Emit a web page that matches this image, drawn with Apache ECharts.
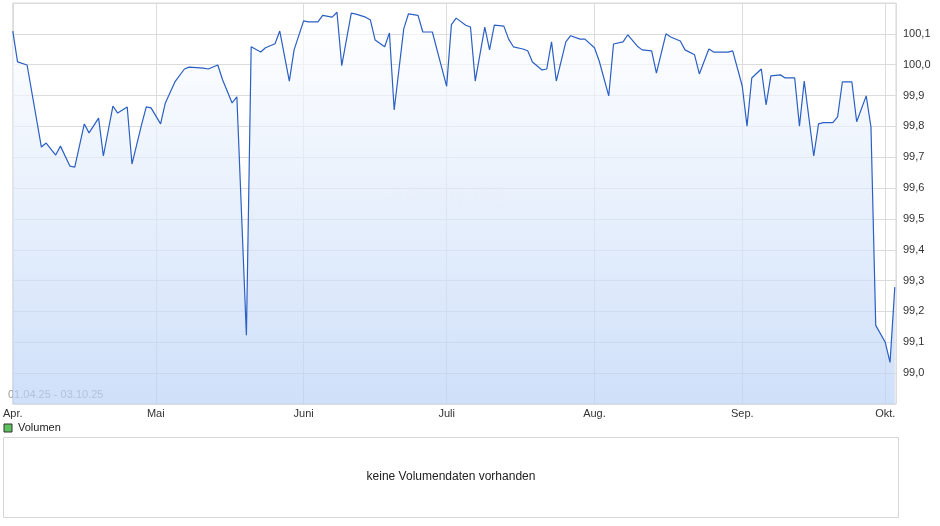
<!DOCTYPE html>
<html><head><meta charset="utf-8">
<script src="https://cdn.jsdelivr.net/npm/echarts@6/dist/echarts.min.js"></script>
<style>html,body{margin:0;padding:0;background:#fff}#c{width:940px;height:526px}</style>
</head><body><div id="c"></div>
<script>
const dates = ["2025-04-01","2025-04-02","2025-04-04","2025-04-07","2025-04-08","2025-04-10","2025-04-11","2025-04-13","2025-04-14","2025-04-16","2025-04-17","2025-04-19","2025-04-20","2025-04-22","2025-04-23","2025-04-25","2025-04-26","2025-04-28","2025-04-29","2025-04-30",
"2025-05-02","2025-05-03","2025-05-05","2025-05-07","2025-05-08","2025-05-11","2025-05-12","2025-05-14","2025-05-15","2025-05-17","2025-05-18","2025-05-20","2025-05-21","2025-05-23","2025-05-24","2025-05-26","2025-05-27","2025-05-29","2025-05-30",
"2025-06-01","2025-06-02","2025-06-04","2025-06-05","2025-06-07","2025-06-08","2025-06-09","2025-06-11","2025-06-12","2025-06-14","2025-06-15","2025-06-16","2025-06-18","2025-06-19","2025-06-20","2025-06-22","2025-06-23","2025-06-25","2025-06-26","2025-06-28",
"2025-07-01","2025-07-02","2025-07-03","2025-07-05","2025-07-06","2025-07-07","2025-07-09","2025-07-10","2025-07-11","2025-07-13","2025-07-14","2025-07-15","2025-07-17","2025-07-18","2025-07-19","2025-07-21","2025-07-22","2025-07-23","2025-07-24","2025-07-26","2025-07-27","2025-07-29","2025-07-30",
"2025-08-01","2025-08-02","2025-08-04","2025-08-05","2025-08-07","2025-08-08","2025-08-10","2025-08-11","2025-08-13","2025-08-14","2025-08-16","2025-08-17","2025-08-19","2025-08-20","2025-08-22","2025-08-23","2025-08-25","2025-08-26","2025-08-27","2025-08-29","2025-08-30",
"2025-09-01","2025-09-02","2025-09-03","2025-09-05","2025-09-06","2025-09-07","2025-09-09","2025-09-10","2025-09-12","2025-09-13","2025-09-14","2025-09-16","2025-09-17","2025-09-18","2025-09-20","2025-09-21","2025-09-22","2025-09-24","2025-09-25","2025-09-27","2025-09-28","2025-09-29",
"2025-10-01","2025-10-02","2025-10-03"];
const prices = [100.109,100.009,99.999,99.733,99.746,99.707,99.736,99.671,99.668,99.808,99.779,99.827,99.704,99.866,99.843,99.863,99.678,99.805,99.863,99.860,
99.808,99.876,99.944,99.986,99.992,99.989,99.986,99.999,99.951,99.876,99.896,99.123,100.058,100.041,100.055,100.068,100.109,99.947,100.048,
100.142,100.139,100.139,100.160,100.154,100.170,99.997,100.167,100.164,100.154,100.145,100.080,100.058,100.103,99.853,100.116,100.165,100.160,100.106,100.106,
99.930,100.130,100.151,100.128,100.122,99.947,100.122,100.048,100.128,100.125,100.083,100.058,100.051,100.045,100.009,99.983,99.986,100.074,99.947,100.074,100.094,100.083,100.083,
100.055,100.012,99.899,100.067,100.074,100.097,100.060,100.048,100.045,99.973,100.100,100.090,100.077,100.048,100.032,99.970,100.051,100.041,100.041,100.041,100.045,
99.931,99.801,99.957,99.986,99.870,99.964,99.967,99.957,99.957,99.801,99.947,99.704,99.808,99.812,99.812,99.831,99.944,99.944,99.815,99.899,99.798,99.155,
99.100,99.035,99.279];
const monthNames = ["Jan.","Feb.","März","Apr.","Mai","Juni","Juli","Aug.","Sep.","Okt.","Nov.","Dez."];

const chart = echarts.init(document.getElementById('c'));
chart.setOption({
  animation:false,
  grid:{left:5,right:44,top:3,bottom:122,show:true,borderColor:'#d6d6d6',borderWidth:1},
  xAxis:{type:'time',min:+new Date("2025-04-01T00:00:00"),max:+new Date("2025-10-03T06:00:00"),
    minInterval:28*86400000,
    axisLine:{show:false},axisTick:{show:false},
    splitLine:{show:true,lineStyle:{color:'#dcdcdc'}},
    axisLabel:{showMinLabel:false,color:'#333',fontSize:11,fontFamily:'Liberation Sans, Arial',margin:4,
      formatter:(v)=>{const d=new Date(v);return d.getDate()===1?monthNames[d.getMonth()]:'';}}},
  yAxis:{type:'value',position:'right',min:98.9,max:100.2,interval:0.1,
    axisLine:{show:false},axisTick:{show:false},
    splitLine:{lineStyle:{color:'#dcdcdc'}},
    axisLabel:{showMinLabel:false,showMaxLabel:false,color:'#333',fontSize:11,fontFamily:'Liberation Sans, Arial',margin:7,
      formatter:v=>v.toFixed(1).replace('.',',')}},
  series:[{type:'line',data:dates.map((d,i)=>[d,prices[i]]),showSymbol:false,
    lineStyle:{color:'#2a5fc4',width:1.2},
    areaStyle:{color:new echarts.graphic.LinearGradient(0,0,0,1,[{offset:0,color:'#ffffff'},{offset:1,color:'#bad2f6'}]),origin:'start'}}],
  graphic:[
    {type:'text',left:8,top:389,style:{text:'01.04.25 - 03.10.25',fill:'#999',font:'11px Liberation Sans, Arial'}},
    {type:'text',left:385,top:186,style:{text:'ARIVA.DE',fill:'rgba(255,255,255,0.45)',font:'italic bold 26px Liberation Sans, Arial'}},
    {type:'rect',shape:{x:4,y:424,width:8,height:8},style:{fill:'#5cc35c',stroke:'#333',lineWidth:1}},
    {type:'text',left:18,top:422,style:{text:'Volumen',fill:'#222',font:'11px Liberation Sans, Arial'}},
    {type:'rect',shape:{x:3.5,y:437.5,width:895,height:80},style:{fill:'#fff',stroke:'#d6d6d6',lineWidth:1}},
    {type:'text',x:451,y:477,style:{text:'keine Volumendaten vorhanden',fill:'#222',font:'12px Liberation Sans, Arial',align:'center',verticalAlign:'middle'}}
  ]
});
</script></body></html>
